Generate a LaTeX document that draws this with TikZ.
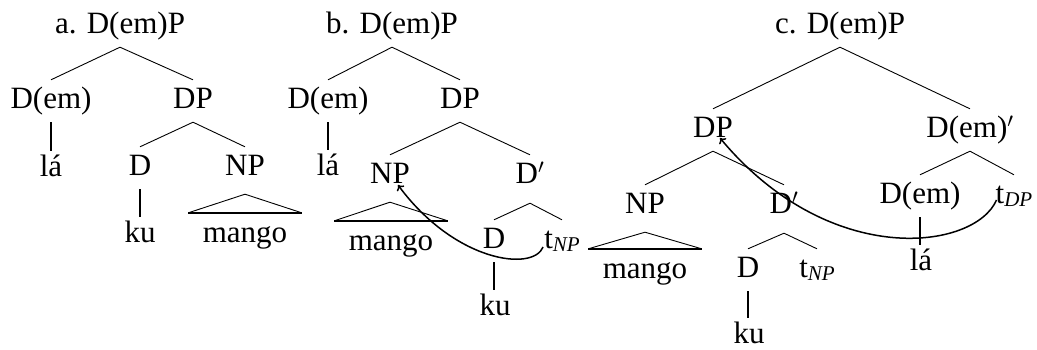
\documentclass[tikz,border=0pt]{standalone}
\usepackage{fontspec}
\setmainfont{Liberation Serif}
\usetikzlibrary{calc,arrows.meta}
\newcommand{\mysub}[1]{\raisebox{-3pt}{\fontsize{21}{22}\selectfont\itshape #1}}
\begin{document}
\begin{tikzpicture}[x=1pt,y=1pt,
  font=\fontsize{31}{36}\selectfont,
  tn/.style={anchor=base,text height=21pt,text depth=7pt,inner xsep=0pt,inner ysep=7pt},
  lf/.style={anchor=base,text height=21pt,text depth=7pt,inner xsep=0pt,inner ysep=4pt},
  trn/.style={anchor=base,text height=21pt,text depth=7pt,inner xsep=0pt,inner ysep=8pt,minimum width=113pt},
  deep/.style={text depth=12pt},
  deeper/.style={text depth=13pt},
  br/.style={line width=0.9pt},
  vl/.style={line width=1.6pt},
  tb/.style={line width=2.2pt},
  mv/.style={line width=1.5pt,-{To[length=5pt,width=9pt]}}]
\useasboundingbox (0,0) rectangle (1037,-349);

% ---------- tree a ----------
\node[tn] (ar) at (120,-33) {a. D(em)P};
\node[tn] (aDem) at (51,-108) {D(em)};
\node[tn] (aDP) at (193,-108) {DP};
\node[lf] (ala) at (51,-176) {lá};
\node[tn] (aD) at (140,-175) {D};
\node[tn,deep] (aNP) at (245,-175) {NP};
\node[lf] (aku) at (140,-242) {ku};
\node[trn] (amango) at (245,-242) {mango};
\draw[br] (ar.south) -- (aDem.north);
\draw[br] (ar.south) -- (aDP.north);
\draw[vl] (aDem.south) -- (aDem.south |- ala.north);
\draw[br] (aDP.south) -- (aD.north);
\draw[br] (aDP.south) -- (aNP.north);
\draw[vl] (aD.south) -- (aD.south |- aku.north);
\draw[br] (aNP.south) -- (amango.north west);
\draw[br] (aNP.south) -- (amango.north east);
\draw[tb] (amango.north west) -- (amango.north east);

% ---------- tree b ----------
\node[tn] (br) at (392,-33) {b. D(em)P};
\node[tn] (bDem) at (328,-108) {D(em)};
\node[tn] (bDP) at (460,-108) {DP};
\node[lf] (bla) at (328,-175) {lá};
\node[tn,deep] (bNP) at (390,-183) {NP};
\node[tn,deeper] (bDp) at (530,-183) {D$'$};
\node[trn] (bmango) at (391,-250) {mango};
\node[tn] (bD) at (494,-248) {D};
\node[tn] (bt) at (562,-248) {t\mysub{NP}};
\node[lf] (bku) at (495,-315) {ku};
\draw[br] (br.south) -- (bDem.north);
\draw[br] (br.south) -- (bDP.north);
\draw[vl] (bDem.south) -- (bDem.south |- bla.north);
\draw[br] (bDP.south) -- (bNP.north);
\draw[br] (bDP.south) -- (bDp.north);
\draw[br] (bNP.south) -- (bmango.north west);
\draw[br] (bNP.south) -- (bmango.north east);
\draw[tb] (bmango.north west) -- (bmango.north east);
\draw[br] (bDp.south) -- (bD.north);
\draw[br] (bDp.south) -- (bt.north);
\draw[vl] (bD.south) -- (bD.south |- bku.north);
\draw[mv] ($(bt.base west)+(-1,1)$) .. controls (533,-272) and (455,-262) .. ($(bNP.base)+(8,-2)$);

% ---------- tree c ----------
\node[tn] (cr) at (840,-33) {c. D(em)P};
\node[tn] (cDP) at (713,-137) {DP};
\node[tn] (cDemp) at (970,-137) {D(em)$'$};
\node[tn,deep] (cNP) at (645,-213) {NP};
\node[tn,deeper] (cDp) at (784,-213) {D$'$};
\node[tn] (cDem) at (920,-203) {D(em)};
\node[tn] (ctDP) at (1014,-203) {t\mysub{DP}};
\node[trn] (cmango) at (645,-278) {mango};
\node[tn] (cD) at (748,-277) {D};
\node[tn] (ctNP) at (817,-277) {t\mysub{NP}};
\node[lf] (cku) at (749,-343) {ku};
\node[lf] (cla) at (921,-270) {lá};
\draw[br] (cr.south) -- (cDP.north);
\draw[br] (cr.south) -- (cDemp.north);
\draw[br] (cDP.south) -- (cNP.north);
\draw[br] (cDP.south) -- (cDp.north);
\draw[br] (cDemp.south) -- (cDem.north);
\draw[br] (cDemp.south) -- (ctDP.north);
\draw[br] (cNP.south) -- (cmango.north west);
\draw[br] (cNP.south) -- (cmango.north east);
\draw[tb] (cmango.north west) -- (cmango.north east);
\draw[br] (cDp.south) -- (cD.north);
\draw[br] (cDp.south) -- (ctNP.north);
\draw[vl] (cD.south) -- (cD.south |- cku.north);
\draw[vl] (cDem.south) -- (cDem.south |- cla.north);
\draw[mv] ($(ctDP.base west)+(1,3)$) .. controls (975,-250) and (830,-270) .. ($(cDP.base)+(7,-1)$);
\end{tikzpicture}
\end{document}
